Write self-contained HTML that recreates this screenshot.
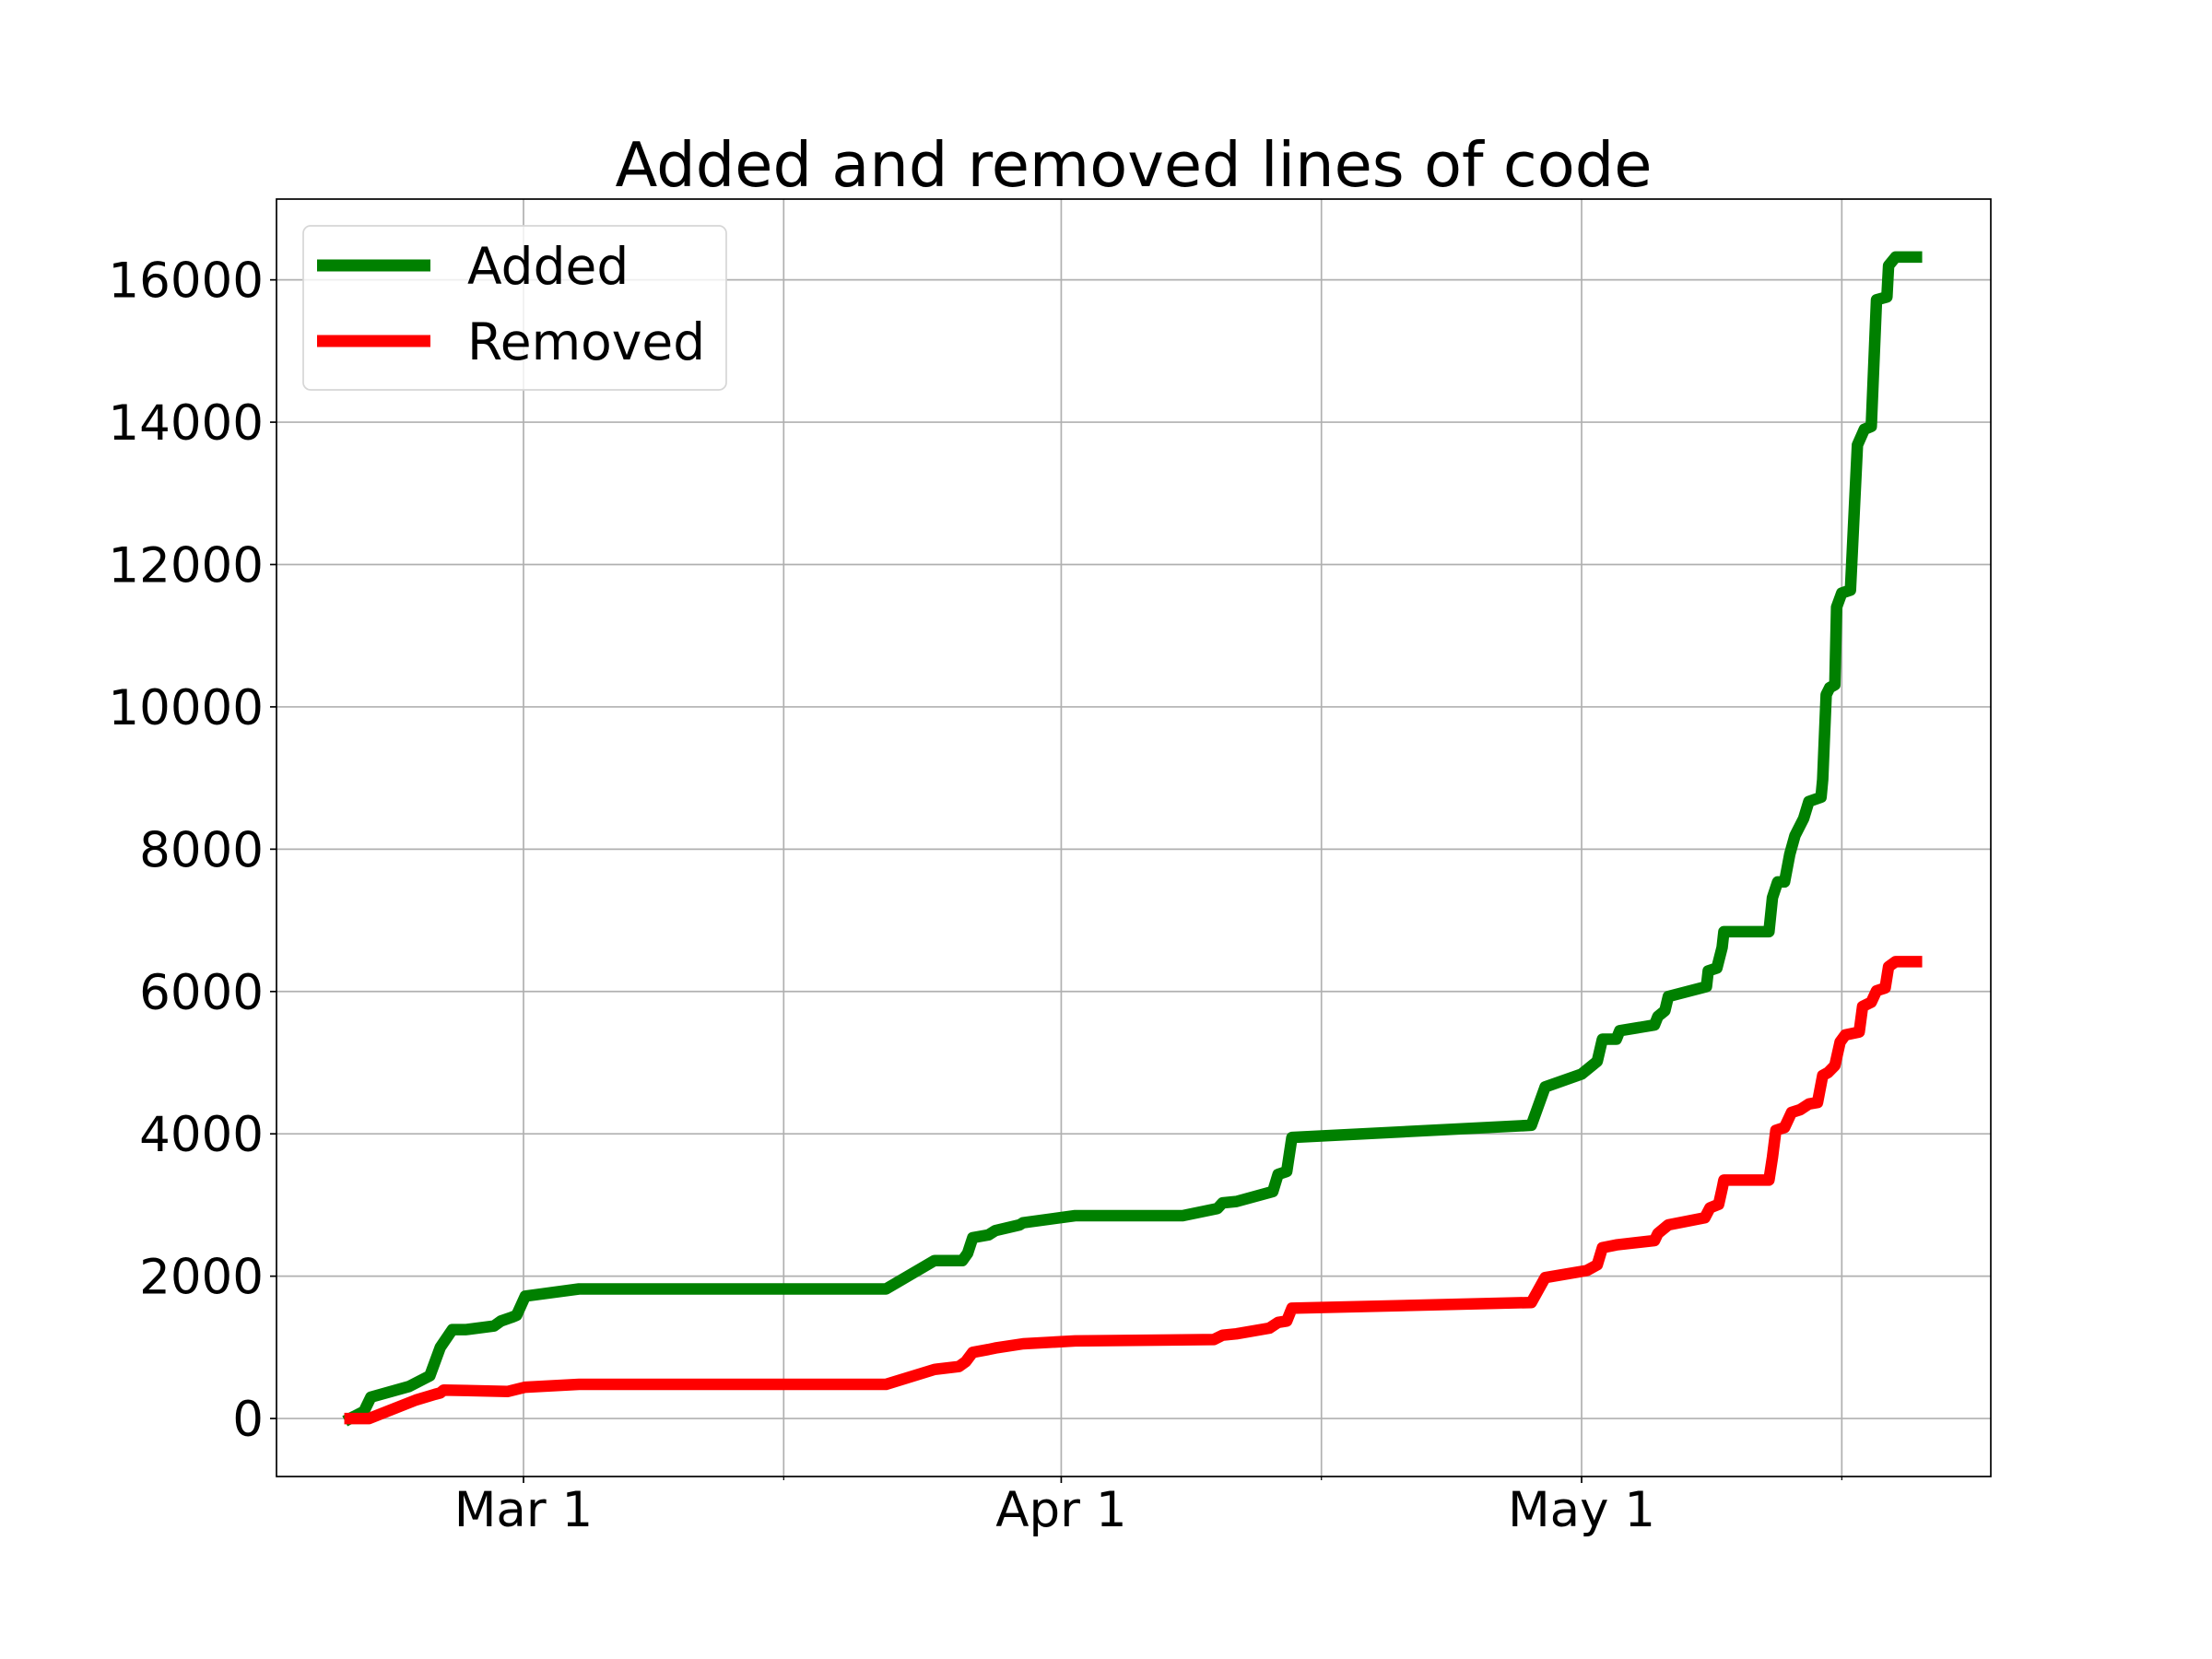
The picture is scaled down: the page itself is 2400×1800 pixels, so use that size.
<!DOCTYPE html>
<html><head><meta charset="utf-8"><title>Added and removed lines of code</title>
<style>html,body{margin:0;padding:0;background:#fff;}svg{display:block;font-family:"DejaVu Sans","Liberation Sans",sans-serif;}</style>
</head><body>
<svg id="chart" width="2400" height="1800" viewBox="0 0 2400 1800" xmlns="http://www.w3.org/2000/svg">
<rect width="2400" height="1800" fill="#fff"/>
<g id="grid"></g>
<g id="series"></g>
<rect x="300" y="216" width="1860" height="1386" fill="none" stroke="#000" stroke-width="1.7"/>
<g id="axes"></g>
<text x="1230" y="202" font-size="67" text-anchor="middle">Added and removed lines of code</text>
<g>
<rect x="329" y="245" width="459" height="178" rx="8" fill="#fff" fill-opacity="0.8" stroke="#d6d6d6" stroke-width="1.7"/>
<g><line x1="344" y1="288" x2="467" y2="288" stroke="#008000" stroke-width="13"/><text x="507" y="308" font-size="55">Added</text></g>
<g><line x1="344" y1="370" x2="467" y2="370" stroke="#ff0000" stroke-width="13"/><text x="507" y="390" font-size="55">Removed</text></g>
</g>
</svg>
<script>
// x values: days since Mar 1
const addedDays = [-10,-9.2,-8.8,-6.6,-5.4,-4.8,-4.1,-3.3,-1.7,-1.3,-0.7,-0.4,0.1,3.2,20.9,23.7,25.3,25.6,25.9,26.8,27.2,28.6,28.8,31.8,38.0,40.0,40.3,41.1,43.2,43.5,44.0,44.3,58.1,58.9,61.0,61.9,62.2,63.0,63.2,65.2,65.4,65.8,66.0,68.2,68.3,68.8,69.1,69.2,71.8,72.0,72.3,72.7,73.0,73.3,73.8,74.1,74.8,74.9,75.1,75.3,75.6,75.7,76.0,76.5,76.9,77.3,77.7,78.0,78.6,78.7,79.1,80.3];
const addedValues = [0,100,300,450,600,1000,1250,1250,1300,1370,1420,1450,1720,1820,1820,2220,2220,2320,2540,2580,2640,2720,2750,2850,2850,2950,3030,3050,3190,3430,3470,3950,4120,4660,4840,5020,5330,5330,5450,5530,5650,5730,5930,6070,6290,6330,6620,6840,6840,7320,7540,7540,7930,8190,8430,8670,8730,8980,10170,10270,10310,11400,11600,11640,13680,13900,13940,15720,15760,16200,16320,16320];
const removedDays = [-10,-8.9,-6.2,-5.1,-4.8,-4.6,-0.9,0.1,3.2,20.9,23.7,25.1,25.5,25.9,26.8,27.2,28.8,31.8,39.8,40.3,41.1,43.0,43.5,44.0,44.3,58.1,58.9,61.3,61.9,62.2,63.0,65.2,65.4,66.0,68.1,68.4,68.9,69.1,69.2,71.8,72.0,72.2,72.7,73.1,73.6,74.1,74.6,74.9,75.2,75.6,75.9,76.2,77.0,77.2,77.7,78.0,78.5,78.7,79.1,80.3];
const removedValues = [0,0,260,340,360,400,380,440,480,480,690,730,800,930,970,990,1050,1090,1110,1170,1190,1270,1350,1370,1550,1630,1980,2080,2160,2400,2440,2500,2600,2720,2820,2960,3010,3230,3350,3350,3670,4050,4090,4300,4340,4420,4440,4820,4860,4960,5290,5390,5430,5790,5850,6010,6050,6350,6420,6420];
const yTicks = [0,2000,4000,6000,8000,10000,12000,14000,16000];
const xTickDays = [0,31,61];
const xTickLabels = ["Mar 1","Apr 1","May 1"];
const xMinorDays = [15,46,76];

const L=300,R=2160,T=216,B=1602;
const xMin=-14.24,xMax=84.59,yMin=-815,yMax=17135;
function xs(d){return L+(d-xMin)/(xMax-xMin)*(R-L);}
function ys(v){return B-(v-yMin)/(yMax-yMin)*(B-T);}
const NS="http://www.w3.org/2000/svg";
function mk(tag,attrs,parent){const e=document.createElementNS(NS,tag);for(const k in attrs)e.setAttribute(k,attrs[k]);parent.appendChild(e);return e;}
const grid=document.getElementById('grid'),axes=document.getElementById('axes'),series=document.getElementById('series');

yTicks.forEach(v=>{
  const y=ys(v);
  const g=mk('line',{x1:L,x2:R,y1:y,y2:y,stroke:'#b0b0b0','stroke-width':1.7},grid);
  
  
  const t=mk('line',{x1:L-7,x2:L,y1:y,y2:y,stroke:'#000','stroke-width':1.7},axes);
  
  
  const tx=mk('text',{x:L-14,y:y+19,'font-size':53,'text-anchor':'end'},axes);
  tx.textContent=String(v);
  
  
});
xTickDays.forEach((d,i)=>{
  const x=xs(d);
  const g=mk('line',{x1:x,x2:x,y1:T,y2:B,stroke:'#b0b0b0','stroke-width':1.7},grid);
  
  
  const t=mk('line',{x1:x,x2:x,y1:B,y2:B+7,stroke:'#000','stroke-width':1.7},axes);
  
  
  const tx=mk('text',{x:x,y:1656,'font-size':53,'text-anchor':'middle'},axes);
  tx.textContent=xTickLabels[i];
  
  
});
xMinorDays.forEach(d=>{
  const x=xs(d);
  const g=mk('line',{x1:x,x2:x,y1:T,y2:B,stroke:'#b0b0b0','stroke-width':1.7},grid);
  
  
  const t=mk('line',{x1:x,x2:x,y1:B,y2:B+4,stroke:'#000','stroke-width':1.2},axes);
  
  
});
function drawLine(days,vals,color,name){
  const d=days.map((x,i)=>(i?'L':'M')+xs(x).toFixed(1)+','+ys(vals[i]).toFixed(1)).join(' ');
  const p=mk('path',{d:d,fill:'none',stroke:color,'stroke-width':12.5,'stroke-linejoin':'round','stroke-linecap':'square'},series);
  
  
}
drawLine(addedDays,addedValues,'#008000','added-line');
drawLine(removedDays,removedValues,'#ff0000','removed-line');
</script>
</body></html>
